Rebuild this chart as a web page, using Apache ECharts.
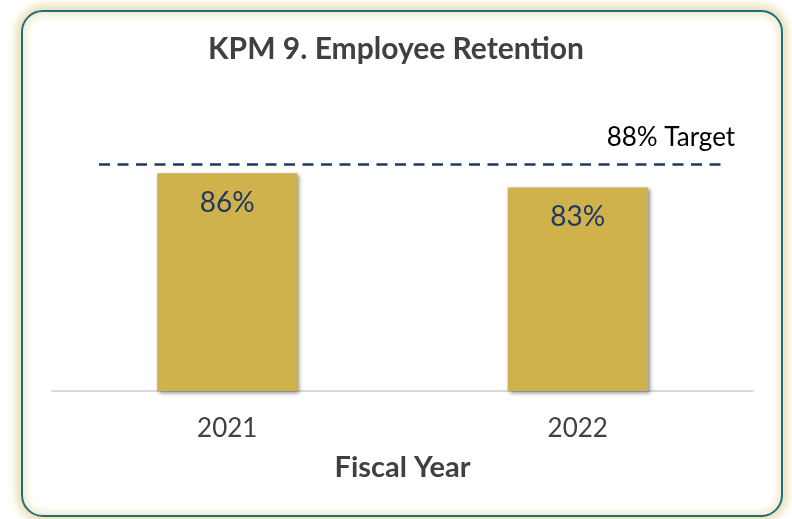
<!DOCTYPE html>
<html>
<head>
<meta charset="utf-8">
<script src="https://cdn.jsdelivr.net/npm/echarts@6/dist/echarts.min.js"></script>
<style>
html,body{margin:0;padding:0;background:#fff;width:792px;height:519px;overflow:hidden;}
#frame{position:absolute;left:21px;top:10px;width:758px;height:503px;border:2px solid #1d6f7f;border-radius:22px;
box-shadow:0 0 8px 5px #eadfb4, inset 0 0 7px 4px #f3ecd0;}
#chart{position:absolute;left:0;top:0;width:792px;height:519px;}
</style>
</head>
<body>
<div id="frame"></div>
<div id="chart"></div>
<script>
const titleText = 'KPM 9. Employee Retention';
const categories = ['2021', '2022'];
const retention = [86, 83];
const target = 88;
const xAxisTitle = 'Fiscal Year';

const chart = echarts.init(document.getElementById('chart'), null, {renderer: 'canvas'});
const font = 'Lato, "Open Sans", sans-serif';
chart.setOption({
  backgroundColor: 'transparent',
  animation: false,
  title: {
    text: titleText, left: 'center', top: 29,
    textStyle: {fontFamily: font, fontWeight: 'bold', fontSize: 30, color: '#404040'}
  },
  grid: {left: 52, right: 39, top: 107, bottom: 128},
  xAxis: {
    type: 'category', data: categories,
    axisLine: {lineStyle: {color: '#d9d9d9', width: 2}},
    axisTick: {show: false},
    axisLabel: {fontFamily: font, fontSize: 26, color: '#404040', margin: 25},
    name: xAxisTitle, nameLocation: 'middle', nameGap: 62,
    nameTextStyle: {fontFamily: font, fontWeight: 'bold', fontSize: 29, color: '#404040'}
  },
  yAxis: {
    type: 'value', min: 40, max: 100, show: false, splitLine: {show: false}
  },
  series: [{
    type: 'bar', data: retention, barWidth: '40%',
    itemStyle: {color: '#CFB24B', shadowColor: 'rgba(0,0,0,0.45)', shadowBlur: 4, shadowOffsetX: 2, shadowOffsetY: 2},
    label: {show: true, position: 'insideTop', distance: 16, formatter: '{c}%',
      fontFamily: font, fontSize: 28, color: '#1f3864'},
    markLine: {
      silent: true, symbol: 'none',
      lineStyle: {type: [11, 7.5], color: '#1f3864', width: 2.7},
      label: {show: true, position: 'insideEndTop', formatter: target + '% Target',
        fontFamily: font, fontSize: 26, color: '#000', distance: [-12, 13]},
      data: [[{x: '12.5%', yAxis: target}, {x: '91.3%', yAxis: target}]]
    }
  }]
});
</script>
</body>
</html>
